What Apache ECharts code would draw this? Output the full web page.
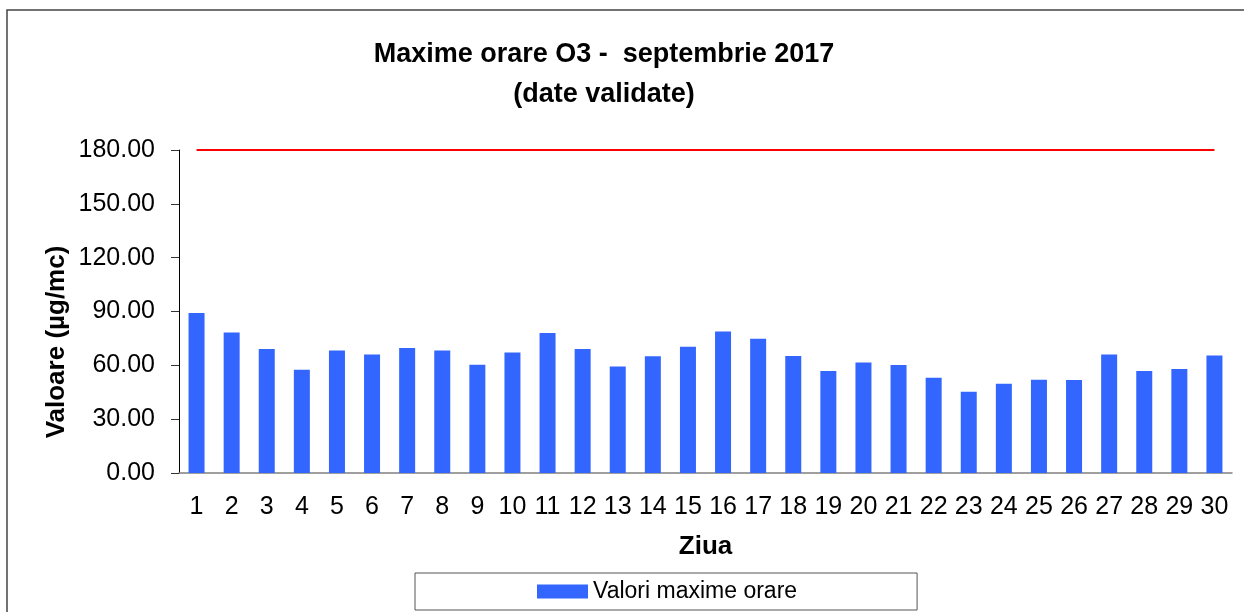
<!DOCTYPE html>
<html>
<head>
<meta charset="utf-8">
<script src="https://cdn.jsdelivr.net/npm/echarts@6/dist/echarts.min.js"></script>
<style>
  html, body { margin: 0; padding: 0; background: #fff; }
  #chart { width: 1244px; height: 612px; }
</style>
</head>
<body>
<div id="chart"></div>
<script>
// zilele lunii
const days = ['1','2','3','4','5','6','7','8','9','10','11','12','13','14','15','16','17','18','19','20','21','22','23','24','25','26','27','28','29','30'];
// maxime orare O3 (ug/mc)
const maxValues = [89.1, 78.3, 69.1, 57.5, 68.3, 66.1, 69.6, 68.3, 60.3, 67.2, 78.0, 69.1, 59.4, 65.0, 70.4, 78.9, 74.8, 65.2, 56.8, 61.6, 60.2, 53.1, 45.3, 49.8, 52.0, 51.8, 66.1, 56.8, 58.0, 65.5];
// prag de informare
const limitValues = days.map(() => 180);

const FONT = 'Liberation Sans, Arial, sans-serif';

const myChart = echarts.init(document.getElementById('chart'));

myChart.setOption({
  backgroundColor: '#fff',
  animation: false,
  title: {
    text: 'Maxime orare O3 -  septembrie 2017\n(date validate)',
    left: 599,
    top: 30,
    textAlign: 'center',
    textStyle: {
      fontFamily: FONT,
      fontSize: 27,
      fontWeight: 'bold',
      color: '#000',
      lineHeight: 40
    }
  },
  graphic: [
    {
      type: 'rect',
      shape: { x: 7, y: 10, width: 1300, height: 700 },
      style: { fill: 'none', stroke: '#444', lineWidth: 1.5 },
      silent: true
    },
    {
      type: 'text',
      x: 57,
      y: 342,
      rotation: Math.PI / 2,
      style: {
        text: 'Valoare (µg/mc)',
        fontFamily: FONT,
        fontSize: 26,
        fontWeight: 'bold',
        fill: '#000',
        align: 'center',
        verticalAlign: 'middle'
      }
    }
  ],
  legend: {
    data: ['Valori maxime orare'],
    left: 415,
    top: 573,
    padding: [7, 120, 7, 122],
    borderColor: '#555',
    borderWidth: 1,
    itemWidth: 51,
    itemHeight: 14,
    icon: 'rect',
    textStyle: {
      fontFamily: FONT,
      fontSize: 23,
      color: '#000'
    }
  },
  grid: {
    left: 179,
    right: 12,
    top: 150,
    bottom: 139
  },
  xAxis: {
    type: 'category',
    data: days,
    name: 'Ziua',
    nameLocation: 'middle',
    nameGap: 61,
    nameTextStyle: {
      fontFamily: FONT,
      fontSize: 26,
      fontWeight: 'bold',
      color: '#000'
    },
    axisLine: { lineStyle: { color: '#808080', width: 1.5 } },
    axisTick: { show: false },
    axisLabel: {
      fontFamily: FONT,
      fontSize: 25,
      color: '#000',
      margin: 22,
      interval: 0
    }
  },
  yAxis: {
    type: 'value',
    min: 0,
    max: 180,
    interval: 30,
    axisLine: { show: true, lineStyle: { color: '#000', width: 1 } },
    axisTick: { show: true, length: 8, lineStyle: { color: '#333' } },
    splitLine: { show: false },
    axisLabel: {
      fontFamily: FONT,
      fontSize: 25,
      color: '#000',
      margin: 24,
      formatter: v => v.toFixed(2)
    }
  },
  series: [
    {
      name: 'Valori maxime orare',
      type: 'bar',
      data: maxValues,
      barWidth: 16,
      itemStyle: { color: '#3366FF' }
    },
    {
      name: 'Prag',
      type: 'line',
      data: limitValues,
      symbol: 'none',
      lineStyle: { color: '#FF0000', width: 2 },
      itemStyle: { color: '#FF0000' }
    }
  ]
});
</script>
</body>
</html>
